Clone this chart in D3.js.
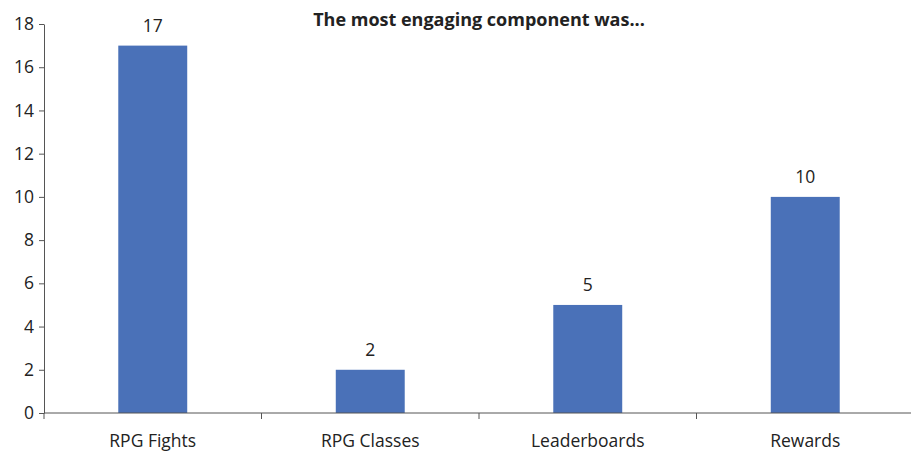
<!DOCTYPE html>
<html>
<head>
<meta charset="utf-8">
<script src="https://cdn.jsdelivr.net/npm/d3@7"></script>
<style>
  body { margin: 0; background: #fff; }
  text { font-family: "Open Sans", "Liberation Sans", sans-serif; fill: #222; }
</style>
</head>
<body>
<div id="chart"></div>
<script>
var categories = ["RPG Fights", "RPG Classes", "Leaderboards", "Rewards"]
var values = [17, 2, 5, 10]
var yTicks = [0, 2, 4, 6, 8, 10, 12, 14, 16, 18]
var title = "The most engaging component was..."

var width = 911, height = 451
var margin = { top: 24, left: 44, right: -3, bottom: 38 }

var svg = d3.select("#chart").append("svg")
    .attr("width", width)
    .attr("height", height)

var x = d3.scaleBand()
    .domain(categories)
    .range([margin.left, width - margin.right])
    .paddingInner(0.683)
    .paddingOuter(0.3415)

var y = d3.scaleLinear()
    .domain([0, 18])
    .range([height - margin.bottom, margin.top])

// bars
svg.selectAll(".bar")
    .data(values)
    .enter().append("rect")
    .attr("class", "bar")
    .attr("x", function(d, i) { return x(categories[i]) })
    .attr("y", function(d) { return y(d) })
    .attr("width", x.bandwidth())
    .attr("height", function(d) { return y(0) - y(d) })
    .style("fill", "#4A71B8")

// value labels
svg.selectAll(".val")
    .data(values)
    .enter().append("text")
    .attr("class", "val")
    .attr("x", function(d, i) { return x(categories[i]) + x.bandwidth() / 2 })
    .attr("y", function(d) { return y(d) - 13.5 })
    .attr("text-anchor", "middle")
    .style("font-size", "17.5px")
    .text(function(d) { return d })

// y axis
var yAxis = svg.append("g")
    .attr("transform", "translate(" + margin.left + ",0)")
    .call(d3.axisLeft(y).tickValues(yTicks).tickSize(5).tickSizeOuter(0).tickPadding(5))
yAxis.selectAll("text").style("font-size", "17.5px").style("fill", "#222")
yAxis.selectAll("line, path").style("stroke", "#555")

// x axis: ticks sit on the category boundaries
var bounds = x.range().slice(0, 1)
categories.forEach(function(c, i) {
    bounds.push(x.range()[0] + (i + 1) * x.step())
})
var xAxis = svg.append("g")
    .attr("transform", "translate(0," + y(0) + ")")
xAxis.append("line")
    .attr("x1", x.range()[0]).attr("x2", x.range()[1])
    .style("stroke", "#555")
xAxis.selectAll(".tk")
    .data(bounds)
    .enter().append("line")
    .attr("class", "tk")
    .attr("x1", function(d) { return d }).attr("x2", function(d) { return d })
    .attr("y1", 0).attr("y2", 6)
    .style("stroke", "#555")
xAxis.selectAll(".lbl")
    .data(categories)
    .enter().append("text")
    .attr("class", "lbl")
    .attr("x", function(d) { return x(d) + x.bandwidth() / 2 })
    .attr("y", 34)
    .attr("text-anchor", "middle")
    .style("font-size", "17.5px")
    .text(function(d) { return d })

// title
svg.append("text")
    .attr("x", (x.range()[0] + x.range()[1]) / 2)
    .attr("y", 26)
    .attr("text-anchor", "middle")
    .style("font-size", "18px")
    .style("font-weight", "bold")
    .text(title)
</script>
</body>
</html>
